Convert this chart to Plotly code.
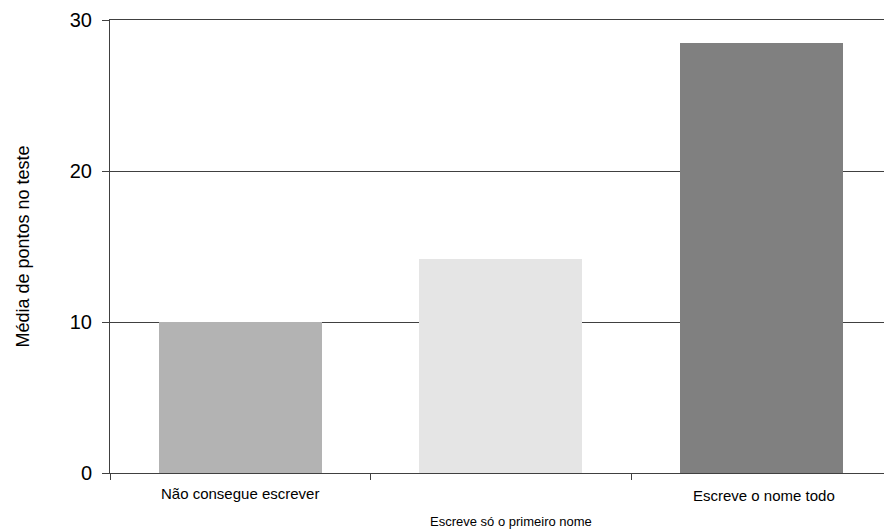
import plotly.graph_objects as go

categories = ["Não consegue escrever", "Escreve só o primeiro nome", "Escreve o nome todo"]
values = [10.0, 14.2, 28.5]
bar_colors = ["#b3b3b3", "#e5e5e5", "#808080"]
y_ticks = [0, 10, 20, 30]
y_title = "Média de pontos no teste"

# label placement (category offset, pixel shift, font size)
label_dx = [0.0, 0.04, 0.01]
label_shift = [-20, -48, -22]
label_size = [15, 13, 15]

font_family = "Liberation Sans, Arial, sans-serif"

fig = go.Figure()
fig.add_trace(go.Bar(
    x=list(range(len(categories))),
    y=values,
    width=0.626,
    marker=dict(color=bar_colors, line=dict(width=0)),
    hoverinfo="skip",
))

for i, cat in enumerate(categories):
    fig.add_annotation(
        x=i + label_dx[i], y=0, xref="x", yref="paper",
        text=cat, showarrow=False, yanchor="middle", xanchor="center",
        yshift=label_shift[i],
        font=dict(family=font_family, size=label_size[i], color="#000000"),
    )

fig.update_layout(
    width=884, height=529,
    margin=dict(l=110, r=0, t=20, b=56, pad=0),
    paper_bgcolor="white", plot_bgcolor="white",
    showlegend=False,
    font=dict(family=font_family, color="#000000"),
    bargap=0,
)
fig.update_xaxes(
    range=[-0.5, 2.471],
    tickmode="array", tickvals=[-0.5, 0.5, 1.5], ticktext=["", "", ""],
    ticks="outside", ticklen=6, tickwidth=1, tickcolor="#404040",
    showgrid=False, zeroline=False,
    showline=True, linecolor="#404040", linewidth=1, mirror=True,
)
fig.update_yaxes(
    range=[0, 30],
    tickmode="array", tickvals=y_ticks,
    ticks="outside", ticklen=7, tickwidth=1, tickcolor="#404040",
    ticklabelstandoff=6,
    tickfont=dict(size=20, family=font_family, color="#000000"),
    showgrid=True, gridcolor="#404040", gridwidth=1,
    zeroline=False,
    showline=True, linecolor="#404040", linewidth=1,
    title=dict(text=y_title, font=dict(size=18, family=font_family, color="#000000"), standoff=35),
)

fig.write_html(
    "out.html",
    config={"displayModeBar": False},
    post_script="document.body.style.margin='0';document.body.style.overflow='hidden';",
)
